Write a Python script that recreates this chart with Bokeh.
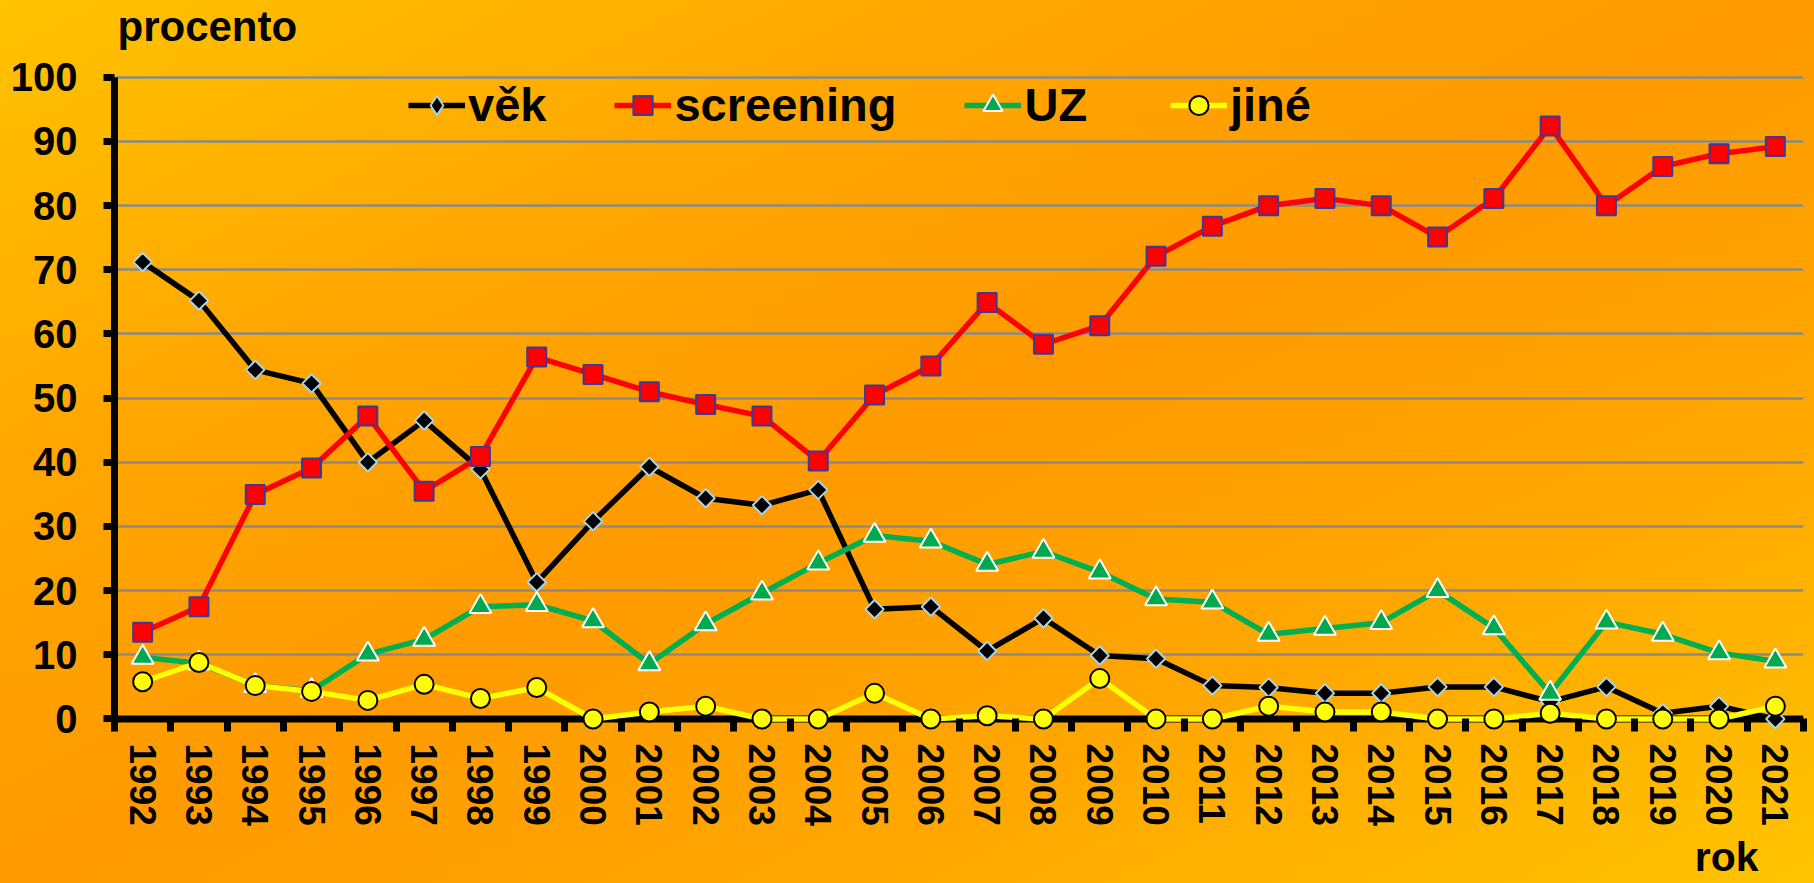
import math
from bokeh.plotting import figure
from bokeh.models import Range1d, FixedTicker, Span, Legend, LegendItem, Title, Label
from bokeh.embed import file_html
from bokeh.resources import INLINE

# ---------------- data ----------------
years = [1992, 1993, 1994, 1995, 1996, 1997, 1998, 1999, 2000, 2001,
         2002, 2003, 2004, 2005, 2006, 2007, 2008, 2009, 2010, 2011,
         2012, 2013, 2014, 2015, 2016, 2017, 2018, 2019, 2020, 2021]
vek = [71.2, 65.2, 54.4, 52.3, 40.0, 46.5, 38.9, 21.3, 30.8, 39.3,
       34.4, 33.3, 35.7, 17.1, 17.5, 10.6, 15.7, 9.9, 9.4, 5.2,
       4.9, 4.0, 4.0, 5.0, 5.0, 2.7, 5.0, 0.9, 2.0, 0.0]
screening = [13.5, 17.5, 35.0, 39.1, 47.2, 35.5, 40.9, 56.4, 53.7, 51.0,
             49.0, 47.2, 40.2, 50.5, 55.0, 64.9, 58.4, 61.3, 72.1, 76.8,
             80.0, 81.1, 80.0, 75.1, 81.1, 92.4, 80.0, 86.1, 88.1, 89.2]
uz = [9.6, 8.7, 5.2, 4.4, 10.1, 12.4, 17.5, 17.8, 15.3, 8.6,
      14.8, 19.6, 24.3, 28.6, 27.7, 24.1, 26.1, 22.9, 18.7, 18.2,
      13.2, 14.1, 15.0, 20.0, 14.2, 4.0, 15.1, 13.2, 10.3, 9.0]
jine = [5.8, 8.8, 5.2, 4.3, 2.9, 5.4, 3.2, 4.9, 0.0, 1.1,
        2.0, 0.0, 0.0, 4.0, 0.0, 0.5, 0.0, 6.3, 0.0, 0.0,
        2.0, 1.1, 1.1, 0.0, 0.0, 0.9, 0.0, 0.0, 0.0, 2.0]
series_labels = ["věk", "screening", "UZ", "jiné"]
y_ticks = [0, 10, 20, 30, 40, 50, 60, 70, 80, 90, 100]
y_axis_title = "procento"
x_axis_title = "rok"

FONT = "Liberation Sans"

# frame reaches the top edge of the canvas (above 100 is empty room for the
# "procento" caption); the y axis itself is bounded to 0..100
p = figure(width=1814, height=883,
           x_range=Range1d(years[0] - 0.5, years[-1] + 0.5),
           y_range=Range1d(-1.95, 111.97),
           output_backend="svg", toolbar_location=None,
           min_border_left=114, min_border_right=11,
           min_border_top=0, min_border_bottom=150)
p.background_fill_color = None
p.border_fill_color = None
p.outline_line_color = None
p.styles = {"background": "linear-gradient(to bottom right, #FFC300 0%, #FFA600 28%, #FF9B00 50%, #FFA600 72%, #FFC400 100%)"}

# grid
p.xgrid.visible = False
p.ygrid.ticker = FixedTicker(ticks=y_ticks)
p.ygrid.grid_line_color = "#8A8A88"
p.ygrid.grid_line_width = 2.5

# x axis line at zero
p.add_layout(Span(location=0, dimension="width", line_color="black",
                  line_width=7, level="underlay"))

# x axis
xa = p.xaxis[0]
xa.ticker = FixedTicker(ticks=years,
                        minor_ticks=[y - 0.5 for y in years] + [years[-1] + 0.5])
xa.axis_line_color = None
xa.major_tick_line_color = None
xa.major_tick_out = 0
xa.major_tick_in = 0
xa.minor_tick_line_color = "black"
xa.minor_tick_line_width = 7
xa.minor_tick_in = 13
xa.minor_tick_out = 0
xa.major_label_orientation = "vertical"
xa.major_label_standoff = 12
xa.major_label_text_font = FONT
xa.major_label_text_font_style = "bold"
xa.major_label_text_font_size = "37px"
xa.major_label_text_color = "black"

# y axis
ya = p.yaxis[0]
ya.ticker = FixedTicker(ticks=y_ticks)
ya.bounds = (0, 100)
ya.axis_line_color = "black"
ya.axis_line_width = 7
ya.major_tick_line_color = "black"
ya.major_tick_line_width = 7
ya.major_tick_out = 11
ya.major_tick_in = 0
ya.minor_tick_line_color = None
ya.major_label_standoff = 26
ya.major_label_text_font = FONT
ya.major_label_text_font_style = "bold"
ya.major_label_text_font_size = "40px"
ya.major_label_text_color = "black"

# caption "procento" (top-left, above the 100 line)
p.add_layout(Label(x=1991.553, y=107.93, text=y_axis_title, text_font=FONT,
                   text_font_style="bold", text_font_size="42px",
                   text_color="black", text_baseline="alphabetic"))

# x axis title "rok" (bottom-right)
p.add_layout(Title(text=x_axis_title, align="right", offset=45, standoff=7,
                   text_font=FONT, text_font_style="bold",
                   text_font_size="41px", text_color="black"), "below")

LW = 5.5
l0 = p.line(years, vek, line_color="black", line_width=LW)
s0_leg = p.scatter(years, vek, marker="diamond", size=17,
                   fill_color="black", line_color="#A9D3E8", line_width=2)
s0 = p.scatter(years, vek, marker="square", angle=math.pi / 4, size=13,
               fill_color="black", line_color="#A9D3E8", line_width=2)
l1 = p.line(years, screening, line_color="#FF0000", line_width=LW)
s1 = p.scatter(years, screening, marker="square", size=19,
               fill_color="#FF0000", line_color="#3A3A9A", line_width=2)
l2 = p.line(years, uz, line_color="#00B050", line_width=LW)
s2 = p.scatter(years, uz, marker="triangle", size=22,
               fill_color="#00A850", line_color="white", line_width=2)
l3 = p.line(years, jine, line_color="#FFFF00", line_width=LW)
s3 = p.scatter(years, jine, marker="circle", size=19,
               fill_color="#FFFF00", line_color="black", line_width=2)

def mk_legend(items, loc):
    return Legend(items=items, orientation="horizontal", location=loc,
                  glyph_width=57, glyph_height=48, label_standoff=3,
                  spacing=68, padding=6, margin=0,
                  border_line_color=None, background_fill_color=None,
                  label_text_font=FONT, label_text_font_style="bold",
                  label_text_font_size="47px", label_text_color="black")

leg1 = mk_legend([LegendItem(label=series_labels[0], renderers=[l0, s0_leg]),
                  LegendItem(label=series_labels[1], renderers=[l1, s1]),
                  LegendItem(label=series_labels[2], renderers=[l2, s2])], (294, 599))
leg2 = mk_legend([LegendItem(label=series_labels[3], renderers=[l3, s3])], (1056, 599))
p.add_layout(leg1)
p.add_layout(leg2)

open("out.html", "w").write(file_html(p, INLINE))
